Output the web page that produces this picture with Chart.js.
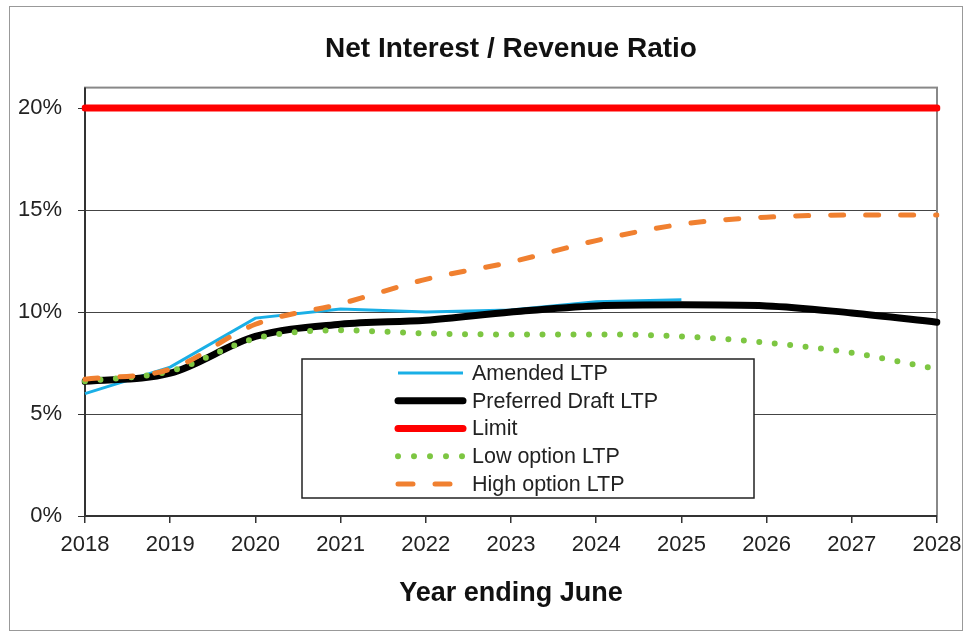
<!DOCTYPE html>
<html>
<head>
<meta charset="utf-8">
<script src="https://cdn.jsdelivr.net/npm/chart.js@4.4.0/dist/chart.umd.min.js"></script>
<style>
  html, body { margin:0; padding:0; background:#fff; }
  canvas { display:block; }
</style>
</head>
<body>
<canvas id="chartRatio" width="967" height="632"></canvas>
<script>
// ─────────────────────────────────────────────────────────────────────────────
// Net Interest / Revenue Ratio — values in %
// ─────────────────────────────────────────────────────────────────────────────
const years      = ['2018','2019','2020','2021','2022','2023','2024','2025','2026','2027','2028'];
const amended    = [6.0, 7.3, 9.7, 10.15, 10.0, 10.1, 10.5, 10.6, null, null, null];
const preferred  = [6.6, 7.0, 8.8, 9.4, 9.6, 10.0, 10.3, 10.35, 10.3, 9.95, 9.5];
const limit      = [20, 20, 20, 20, 20, 20, 20, 20, 20, 20, 20];
const lowOption  = [6.6, 7.1, 8.7, 9.1, 8.95, 8.9, 8.9, 8.8, 8.5, 8.0, 7.2];
const highOption = [6.7, 7.2, 9.4, 10.4, 11.6, 12.45, 13.5, 14.3, 14.65, 14.75, 14.75];
const yTicks     = [0, 5, 10, 15, 20];

const FONT = "'Liberation Sans', Arial, sans-serif";

// outer frame + plot frame
const frames = {
  id: 'frames',
  beforeDraw(chart) {
    const ctx = chart.ctx;
    ctx.save();
    ctx.strokeStyle = '#999'; ctx.lineWidth = 1;
    ctx.strokeRect(9.5, 6.5, 953, 624);
    ctx.restore();
  },
  beforeDatasetsDraw(chart) {
    const ctx = chart.ctx, a = chart.chartArea;
    ctx.save();
    ctx.strokeStyle = '#888'; ctx.lineWidth = 2;
    ctx.strokeRect(a.left, a.top, a.right - a.left, a.bottom - a.top);
    ctx.strokeStyle = '#333';
    ctx.beginPath();
    ctx.moveTo(a.left, a.top); ctx.lineTo(a.left, a.bottom); ctx.lineTo(a.right, a.bottom);
    ctx.stroke();
    ctx.restore();
  }
};

// boxed legend inside the plot
const legendBox = {
  id: 'legendBox',
  afterDatasetsDraw(chart) {
    const ctx = chart.ctx;
    const bx = 302, by = 359, bw = 452, bh = 139;
    ctx.save();
    ctx.fillStyle = '#fff';
    ctx.fillRect(bx, by, bw, bh);
    ctx.strokeStyle = '#222'; ctx.lineWidth = 1.5;
    ctx.strokeRect(bx, by, bw, bh);
    ctx.font = '21.5px ' + FONT;
    ctx.textBaseline = 'middle';
    chart.data.datasets.forEach((ds, i) => {
      const y = 373 + i * 27.75;
      ctx.beginPath();
      ctx.strokeStyle = ds.borderColor;
      ctx.lineWidth = ds.borderWidth;
      ctx.lineCap = ds.borderCapStyle || 'butt';
      ctx.setLineDash(ds.legendDash || ds.borderDash || []);
      ctx.moveTo(398, y); ctx.lineTo(463, y);
      ctx.stroke();
      ctx.setLineDash([]);
      ctx.fillStyle = '#222';
      ctx.fillText(ds.label, 472, y + 1);
    });
    ctx.restore();
  }
};

new Chart(document.getElementById('chartRatio'), {
  type: 'line',
  data: {
    labels: years,
    datasets: [
      { label:'Amended LTP', data: amended, borderColor:'#1AAFE6', borderWidth:3,
        pointRadius:0, tension:0, order:4, spanGaps:false },
      { label:'Preferred Draft LTP', data: preferred, borderColor:'#000000', borderWidth:7,
        borderCapStyle:'round', pointRadius:0, cubicInterpolationMode:'monotone', order:3 },
      { label:'Limit', data: limit, borderColor:'#FF0000', borderWidth:7,
        borderCapStyle:'round', pointRadius:0, order:5 },
      { label:'Low option LTP', data: lowOption, borderColor:'#7DC642', borderWidth:6,
        borderCapStyle:'round', borderDash:[0, 15.5], legendDash:[0, 16],
        pointRadius:0, cubicInterpolationMode:'monotone', order:2 },
      { label:'High option LTP', data: highOption, borderColor:'#F08030', borderWidth:5,
        borderCapStyle:'round', borderDash:[13, 22], legendDash:[15, 22],
        pointRadius:0, cubicInterpolationMode:'monotone', order:1 }
    ]
  },
  options: {
    responsive: false,
    animation: false,
    layout: { padding: { top: 0, right: 30, left: 0, bottom: 0 } },
    plugins: {
      legend: { display: false },
      tooltip: { enabled: false },
      title: {
        display: true,
        fullSize: false,
        text: 'Net Interest / Revenue Ratio',
        color: '#111',
        font: { family: FONT, size: 28, weight: 'bold' },
        padding: { top: 32, bottom: 22 }
      }
    },
    scales: {
      x: {
        offset: false,
        afterFit: s => { s.height = 116; s.paddingLeft = 0; s.paddingRight = 0; },
        grid: { drawOnChartArea: false, drawTicks: true, tickLength: 7, color: '#333', lineWidth: 1.5 },
        border: { display: false },
        ticks: { color: '#222', padding: 9, maxRotation: 0, autoSkip: false,
                 font: { family: FONT, size: 22 } },
        title: { display: true, text: 'Year ending June', color: '#111',
                 font: { family: FONT, size: 27, weight: 'bold' },
                 padding: { top: 0, bottom: 22 } }
      },
      y: {
        min: 0, max: 21,
        afterFit: s => { s.width = 85; },
        afterBuildTicks: s => { s.ticks = yTicks.map(v => ({ value: v })); },
        grid: {
          drawTicks: true, tickLength: 7,
          color: c => (c.tick && c.tick.value === 0) ? 'rgba(0,0,0,0)' : '#444',
          tickColor: '#333',
          lineWidth: 1
        },
        border: { display: false },
        ticks: { color: '#222', padding: 16, callback: v => v + '%',
                 font: { family: FONT, size: 22 } }
      }
    }
  },
  plugins: [frames, legendBox]
});
</script>
</body>
</html>
